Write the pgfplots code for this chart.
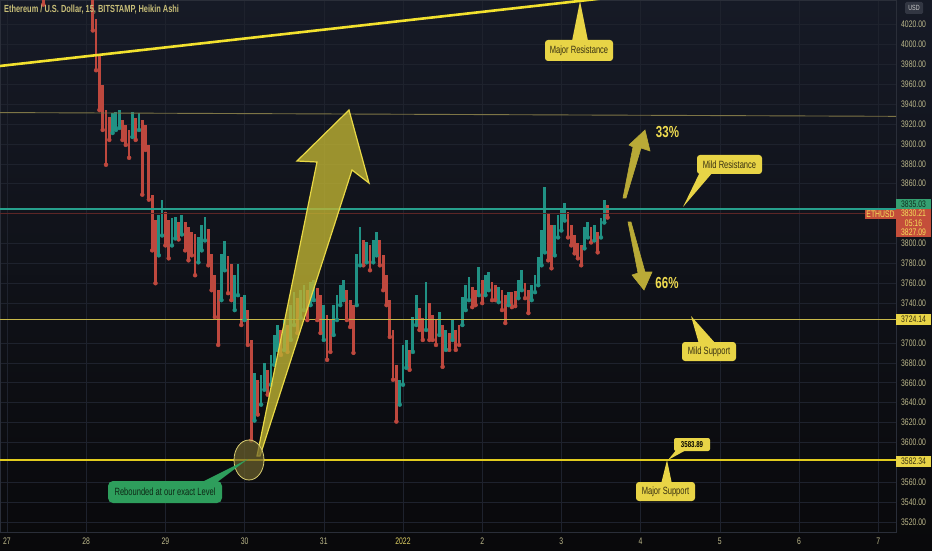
\documentclass[border=0pt]{standalone}
\usepackage{pgfplots}
\pgfplotsset{compat=1.18}
\usepackage{pgfplotstable}
\usepackage{fontspec}
\setmainfont{Liberation Sans}
\definecolor{bgtop}{RGB}{22,26,38}
\definecolor{bgbot}{RGB}{9,9,11}
\definecolor{gridc}{RGB}{30,34,45}
\definecolor{sepc}{RGB}{42,46,57}
\definecolor{tickc}{RGB}{190,186,140}
\definecolor{yrc}{RGB}{222,208,100}
\definecolor{titlec}{RGB}{200,190,120}
\definecolor{cred}{RGB}{190,72,62}
\definecolor{cteal}{RGB}{32,145,132}
\definecolor{olivec}{RGB}{125,117,70}
\definecolor{tealc}{RGB}{38,160,140}
\definecolor{darkred}{RGB}{92,38,38}
\definecolor{msup}{RGB}{200,184,74}
\definecolor{majsup}{RGB}{226,204,30}
\definecolor{trend}{RGB}{242,225,46}
\definecolor{yc}{RGB}{232,212,70}
\definecolor{ytext}{RGB}{55,48,18}
\definecolor{gc}{RGB}{46,158,92}
\definecolor{gtext}{RGB}{14,40,22}
\definecolor{arrowf}{RGB}{190,178,50}
\definecolor{arrowd}{RGB}{232,216,70}
\definecolor{smallarrow}{RGB}{185,170,55}
\definecolor{pct}{RGB}{240,220,80}
\definecolor{boxred}{RGB}{196,78,58}
\definecolor{boxgreen}{RGB}{53,160,113}
\definecolor{boxytext}{RGB}{245,225,90}
\definecolor{usdc}{RGB}{50,54,66}

% hour (from Dec 27 00:00), low, high
\pgfplotstableread{
h lo hi
11 4040 4062
26 4014 4058
27 3974 4026
28 3934 3990
29 3914 3959
30 3879 3934
31 3904 3927
35 3904 3924
36 3899 3919
37 3886 3914
39 3904 3926
41 3849 3924
42 3894 3919
43 3844 3899
44 3793 3849
45 3760 3824
48 3798 3832
49 3785 3824
52 3804 3822
54 3793 3822
55 3783 3816
56 3788 3811
57 3768 3809
61 3778 3814
62 3753 3789
63 3726 3768
64 3698 3753
67 3750 3787
68 3743 3779
71 3718 3746
73 3698 3733
74 3602 3703
76 3628 3663
79 3648 3673
83 3688 3713
85 3691 3718
88 3710 3745
91 3723 3753
94 3723 3755
95 3710 3748
97 3683 3728
98 3691 3723
103 3723 3753
104 3716 3743
105 3690 3738
108 3778 3803
110 3773 3798
113 3778 3803
114 3753 3788
115 3738 3768
116 3706 3743
117 3663 3713
118 3621 3678
122 3673 3693
125 3713 3735
126 3703 3725
128 3703 3740
129 3703 3728
130 3698 3723
132 3676 3718
134 3693 3710
136 3693 3713
137 3698 3718
141 3736 3756
142 3738 3753
144 3740 3763
147 3743 3761
148 3743 3758
150 3733 3753
151 3720 3748
153 3736 3751
154 3737 3752
157 3745 3760
158 3730 3753
164 3783 3831
165 3775 3819
170 3806 3832
171 3798 3819
172 3790 3808
173 3785 3800
174 3778 3798
177 3801 3816
179 3791 3811
182 3826 3839
}\redtab

\pgfplotstableread{
h lo hi
32 3911 3931
33 3914 3932
34 3916 3934
38 3907 3932
40 3914 3931
46 3788 3829
47 3808 3844
50 3798 3826
51 3805 3827
53 3809 3829
58 3781 3806
59 3793 3819
60 3803 3827
65 3743 3789
66 3773 3802
69 3733 3768
70 3748 3779
72 3723 3748
75 3622 3670
77 3638 3668
78 3653 3680
80 3658 3688
81 3678 3708
82 3693 3718
84 3693 3723
86 3703 3738
87 3718 3751
89 3725 3753
90 3733 3758
92 3738 3761
93 3743 3763
96 3703 3738
99 3708 3738
100 3723 3748
101 3738 3758
102 3743 3763
106 3738 3789
107 3778 3816
109 3781 3801
111 3781 3803
112 3788 3811
119 3638 3663
120 3658 3698
121 3675 3703
123 3691 3726
124 3718 3748
127 3713 3761
131 3708 3731
133 3693 3713
135 3703 3723
138 3718 3746
139 3733 3758
140 3743 3766
143 3748 3776
145 3748 3768
146 3753 3771
149 3741 3756
152 3738 3751
155 3745 3763
156 3753 3773
159 3743 3758
160 3751 3768
161 3758 3786
162 3778 3813
163 3791 3857
166 3788 3819
167 3806 3829
168 3813 3836
169 3823 3841
175 3795 3816
176 3806 3822
178 3803 3819
180 3806 3826
181 3821 3844
}\tealtab

\newcommand{\tfont}{\fontsize{9.5}{10}\selectfont}
\newcommand{\cfont}{\fontsize{10.5}{11}\selectfont}

\begin{document}
\begin{tikzpicture}
\useasboundingbox (0,0) rectangle (932pt,550pt);
\fill[top color=bgtop, bottom color=bgbot] (0,0) rectangle (932pt,550pt);
\begin{axis}[
  at={(0pt,18pt)}, anchor=south west,
  scale only axis, width=896pt, height=532pt,
  xmin=-2.12, xmax=269.4, ymin=3510, ymax=4044.6,
  axis line style={draw=sepc, line width=0.8pt},
  major tick length=0pt, tick style={draw=none},
  xtick={0,24,...,264},
  xticklabels={27,28,29,30,31,{\color{yrc}2022},2,3,4,5,6,7},
  ytick={3520,3540,3560,3600,3620,3640,3660,3680,3700,3740,3760,3780,3800,3860,3880,3900,3920,3940,3960,3980,4000,4020},
  yticklabel pos=right,
  grid=major, major grid style={draw=gridc, line width=0.5pt},
  yticklabel style={anchor=center, xshift=17.5pt, font=\tfont, text=tickc, xscale=0.72},
  xticklabel style={anchor=center, yshift=-9pt, font=\tfont, text=tickc, xscale=0.72},
  /pgf/number format/fixed,
  /pgf/number format/fixed zerofill,
  /pgf/number format/precision=2,
  /pgf/number format/1000 sep={},
  /pgf/number format/assume math mode=true,
]
\addplot[color=cred, only marks, mark=none,
  error bars/.cd, y dir=plus, y explicit, error mark=none,
  error bar style={line width=2.8pt, draw=cred}]
  table[x=h, y=lo, y error expr=\thisrow{hi}-\thisrow{lo}] {\redtab};
\addplot[color=cteal, only marks, mark=none,
  error bars/.cd, y dir=plus, y explicit, error mark=none,
  error bar style={line width=2.8pt, draw=cteal}]
  table[x=h, y=lo, y error expr=\thisrow{hi}-\thisrow{lo}] {\tealtab};
\addplot[draw=olivec, line width=0.9pt] coordinates {(-2.12,3931.5) (269.4,3927.7)};
\addplot[draw=tealc, line width=2pt] coordinates {(-2.12,3835.03) (269.4,3835.03)};
\addplot[draw=darkred, line width=0.8pt] coordinates {(-2.12,3830.21) (269.4,3830.21)};
\addplot[draw=msup, line width=0.8pt] coordinates {(-2.12,3724.14) (269.4,3724.14)};
\addplot[draw=majsup, line width=1.1pt] coordinates {(-2.12,3582.34) (269.4,3582.34)};
\addplot[draw=trend, line width=2.6pt] coordinates {(-2.12,3978.3) (200,4053.5)};
\end{axis}

\begin{scope}[shift={(0pt,550pt)}, x=1pt, y=-1pt]
% title
\node[anchor=west, inner sep=0, xscale=0.72, text=titlec, font=\bfseries\fontsize{10.3}{11}\selectfont] at (4,10)
  {Ethereum / U.S. Dollar, 15, BITSTAMP, Heikin Ashi};
% big arrow
\filldraw[fill=arrowf, fill opacity=0.8, draw=arrowd, line width=1.2pt, line join=miter]
  (257,456) -- (317,162) -- (297,161) -- (349,110) -- (369,183) -- (352,170) -- (260,456) -- cycle;
% ellipse
\filldraw[fill={rgb,255:red,110;green,100;blue,45}, fill opacity=0.7, draw={rgb,255:red,216;green,204;blue,112}, line width=0.8pt]
  (249,460) ellipse [x radius=15, y radius=20];
% small arrows
\filldraw[fill=smallarrow, draw=smallarrow, line width=0.6pt, line join=miter]
  (623,198) -- (633,147) -- (629,145) -- (645,130) -- (650,151) -- (641,148) -- (626,198) -- cycle;
\filldraw[fill=smallarrow, draw=smallarrow, line width=0.6pt, line join=miter]
  (628,222) -- (638,273) -- (632,275) -- (644,290) -- (652,272) -- (645,272) -- (631,222) -- cycle;
\node[text=pct, font=\bfseries\fontsize{16}{17}\selectfont, xscale=0.72, inner sep=0] at (667.5,132.5) {33\%};
\node[text=pct, font=\bfseries\fontsize{16}{17}\selectfont, xscale=0.72, inner sep=0] at (667,282.5) {66\%};
% callouts
\fill[yc] (572,41) -- (588,41) -- (580,1) -- cycle;
\fill[yc, rounded corners=3pt] (545,40) rectangle (613,61);
\node[text=ytext, font=\cfont, xscale=0.72] at (579,50.5) {Major Resistance};

\fill[yc] (700,172) -- (713,172) -- (683,207) -- cycle;
\fill[yc, rounded corners=3pt] (697,155) rectangle (762,174);
\node[text=ytext, font=\cfont, xscale=0.72] at (729.5,164.5) {Mild Resistance};

\fill[yc] (699,344) -- (716,344) -- (691,316) -- cycle;
\fill[yc, rounded corners=3pt] (682,342) rectangle (736,361);
\node[text=ytext, font=\cfont, xscale=0.72] at (709,351.5) {Mild Support};

\fill[yc] (661,484) -- (672,484) -- (667,460) -- cycle;
\fill[yc, rounded corners=3pt] (636,482) rectangle (695,501);
\node[text=ytext, font=\cfont, xscale=0.72] at (665.5,491.5) {Major Support};

\fill[yc] (677,449) -- (688,449) -- (668,460) -- cycle;
\fill[yc, rounded corners=2pt] (674,438) rectangle (710,451);
\node[text=black, font=\bfseries\fontsize{8.5}{9}\selectfont, xscale=0.72] at (692,444.5) {3583.89};

\fill[gc] (200,483) -- (216,483) -- (248,459) -- cycle;
\fill[gc, rounded corners=5pt] (108,481) rectangle (222,503);
\node[text=gtext, font=\cfont, xscale=0.72] at (165,492) {Rebounded at our exact Level};

% price scale labels
\fill[usdc, rounded corners=1.5pt] (905,2) rectangle (923,14);
\node[text={rgb,255:red,200;green,200;blue,200}, font=\fontsize{7.5}{8}\selectfont, xscale=0.72] at (914,8) {USD};
\fill[boxgreen] (896,199) rectangle (931,209);
\node[text={rgb,255:red,16;green,48;blue,32}, font=\tfont, xscale=0.72] at (913.5,204) {3835.03};
\fill[boxred] (865,210) rectangle (896,219);
\node[text=boxytext, font=\tfont, xscale=0.72] at (880.5,214.5) {ETHUSD};
\fill[boxred] (896,209) rectangle (931,237);
\node[text=boxytext, font=\tfont, xscale=0.72] at (913.5,213.5) {3830.21};
\node[text=boxytext, font=\tfont, xscale=0.72] at (913.5,223) {05:16};
\node[text=boxytext, font=\tfont, xscale=0.72] at (913.5,232) {3827.09};
\fill[yc] (896,314) rectangle (931,325);
\node[text=ytext, font=\tfont, xscale=0.72] at (913.5,319.5) {3724.14};
\fill[yc] (896,456) rectangle (931,467);
\node[text=ytext, font=\tfont, xscale=0.72] at (913.5,461.5) {3582.34};
\end{scope}
\end{tikzpicture}
\end{document}
